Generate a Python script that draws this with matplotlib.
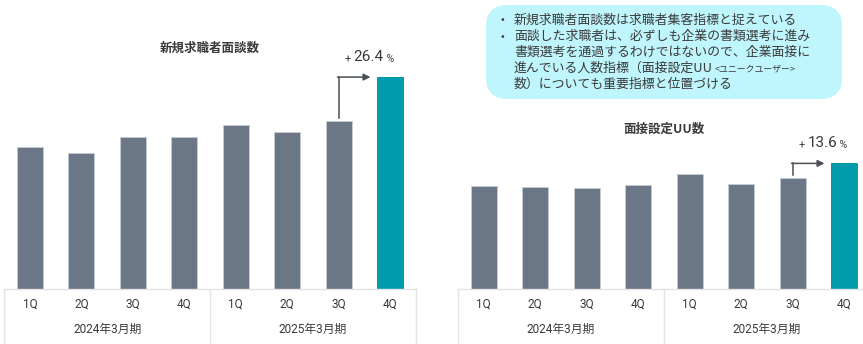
import matplotlib
matplotlib.use("Agg")
import matplotlib.pyplot as plt
from matplotlib.patches import FancyBboxPatch

plt.rcParams['font.family'] = ['Noto Sans CJK JP', 'DejaVu Sans']
LATIN = ['Roboto', 'Noto Sans CJK JP']

# Data
quarters = ["1Q", "2Q", "3Q", "4Q", "1Q", "2Q", "3Q", "4Q"]
fiscal_years = ["2024年3月期", "2025年3月期"]
interviews = [142, 136, 152, 152, 164, 157, 168, 212.4]
interview_growth = "26.4"
setup_uu = [103, 102, 101, 104, 115, 105, 111, 126.1]
setup_growth = "13.6"
titles = ["新規求職者面談数", "面接設定UU数"]
notes = [
    "新規求職者面談数は求職者集客指標と捉えている",
    "面談した求職者は、必ずしも企業の書類選考に進み",
    "書類選考を通過するわけではないので、企業面接に",
    "進んでいる人数指標（面接設定UU",
    "数）についても重要指標と位置づける",
]
note_small = "<ユニークユーザー>"

W, H = 863, 344
GRAY = "#6b7787"
GRAY_EDGE = "#c3cad2"
TEAL = "#009baa"
TEXT = "#3a3a3a"
LINE = "#e3e3e3"

fig = plt.figure(figsize=(W / 100, H / 100), dpi=100)


def make_axes(left_px, right_px, xmax):
    ax = fig.add_axes([left_px / W, 1 - 289 / H, (right_px - left_px) / W, 289 / H])
    ax.set_xlim(-0.5, xmax)
    ax.set_ylim(0, 289)
    ax.axis("off")
    return ax


def draw_panel(ax, values, growth, title, title_y):
    xs = list(range(len(values)))
    colors = [GRAY] * (len(values) - 1) + [TEAL]
    edges = [GRAY_EDGE] * (len(values) - 1) + [TEAL]
    ax.bar(xs, values, width=0.505, color=colors, edgecolor=edges, linewidth=0.7)

    # baseline and group separators
    ax.plot([-0.5, 7.5], [0, 0], color=LINE, lw=1, clip_on=False)
    for xv in (-0.5, 3.5, 7.5):
        ax.plot([xv, xv], [0, -60], color=LINE, lw=1, clip_on=False)

    for i, q in enumerate(quarters):
        ax.text(i, -15, q, ha="center", va="center", fontsize=8.5, color=TEXT,
                family=LATIN)
    ax.text(1.5, -40, fiscal_years[0], ha="center", va="center", fontsize=8.5,
            color=TEXT, family=LATIN)
    ax.text(5.5, -40, fiscal_years[1], ha="center", va="center", fontsize=8.5,
            color=TEXT, family=LATIN)

    ax.text(3.5, title_y, title, ha="center", va="center", fontsize=9,
            fontweight="bold", color=TEXT)

    # growth arrow from the previous quarter to the latest quarter
    prev, last = values[-2], values[-1]
    top = last - 0.5
    ax.plot([6, 6], [prev + 3, top], color="#4a4f55", lw=1.1, clip_on=False)
    ax.annotate("", xy=(6.62, top), xytext=(5.98, top),
                arrowprops=dict(arrowstyle="-|>", color="#4a4f55", lw=1.1,
                                mutation_scale=10, shrinkA=0, shrinkB=0))
    t1 = ax.text(6.12, top + 15, "+ ", ha="left", va="baseline", fontsize=8,
                 color=TEXT, family=LATIN)
    t2 = ax.annotate(growth, xy=(1, 0), xycoords=t1, ha="left", va="bottom",
                     fontsize=11, color=TEXT, family=LATIN)
    ax.annotate(" %", xy=(1, 0), xycoords=t2, ha="left", va="bottom",
                fontsize=7.5, color=TEXT, family=LATIN)


ax1 = make_axes(4.3, 415.7, 7.5)
draw_panel(ax1, interviews, interview_growth, titles[0], 241)

ax2 = make_axes(458, 863, 7 + (863 - 844) / 51.47)
draw_panel(ax2, setup_uu, setup_growth, titles[1], 160)

# note box
box = FancyBboxPatch((486 / W, 1 - 99 / H), (842 - 486) / W, 94 / H,
                     boxstyle="round,pad=0,rounding_size=0.025",
                     transform=fig.transFigure, facecolor="#bff5fd", edgecolor="none",
                     mutation_aspect=W / H)
fig.patches.append(box)

line_ys = [20, 36.5, 52.5, 68.5, 84.5]
note_texts = []
for k, (s, yp) in enumerate(zip(notes, line_ys)):
    if k in (0, 1):
        fig.text(502 / W, 1 - yp / H, "•", ha="center", va="center", fontsize=8,
                 color=TEXT)
    note_texts.append(fig.text(514 / W, 1 - yp / H, s, ha="left", va="center",
                               fontsize=9.3, color=TEXT))

# the small annotation continues the fourth line
fig.canvas.draw()
bb = note_texts[3].get_window_extent()
fig.text(bb.x1 / W + 2 / W, 1 - line_ys[3] / H, note_small, ha="left", va="center",
         fontsize=6.4, color=TEXT)

fig.savefig("out.png", dpi=100)
